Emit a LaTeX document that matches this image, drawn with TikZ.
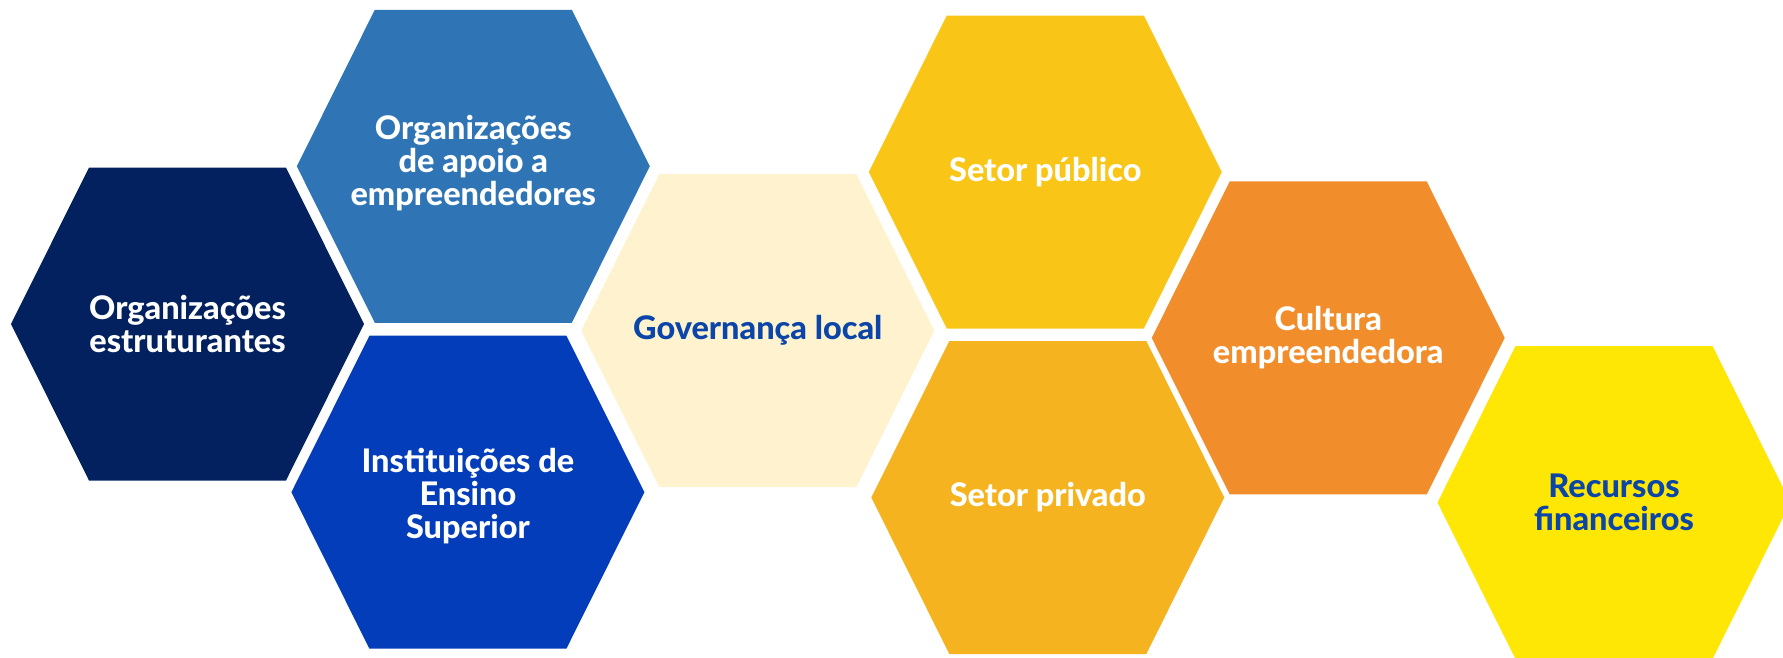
\documentclass[tikz,border=0pt]{standalone}
\usepackage{fontspec}
\setmainfont{Lato}[BoldFont={Lato Heavy}]
\definecolor{navy}{HTML}{03215F}
\definecolor{midblue}{HTML}{2F75B5}
\definecolor{royal}{HTML}{033DB9}
\definecolor{cream}{HTML}{FEF2CF}
\definecolor{sunyellow}{HTML}{F9C617}
\definecolor{amber}{HTML}{F5B41F}
\definecolor{orangec}{HTML}{F18E2B}
\definecolor{brightyellow}{HTML}{FEE705}
\definecolor{textblue}{HTML}{0B45A8}
\newcommand{\hexcell}[6]{%
  \fill[#4] (#2-176.5,#3) -- (#2-98.5,#3-156.5) -- (#2+98.5,#3-156.5) -- (#2+176.5,#3) -- (#2+98.5,#3+156.5) -- (#2-98.5,#3+156.5) -- cycle;
  \node[#5] (#1) at (#2,#3) {#6};}
\begin{document}
\begin{tikzpicture}[x=1pt,y=-1pt,
  lbl/.style={align=center,inner sep=0pt,font=\fontsize{32.5}{33}\selectfont\bfseries},
  whitelbl/.style={lbl,text=white},
  bluelbl/.style={lbl,text=textblue}]
\useasboundingbox (0,0) rectangle (1783,657);
\clip (0,0) rectangle (1783,657);
\hexcell{estrut}{187.5}{324}{navy}{whitelbl}{Organizações\\estruturantes}
\hexcell{apoio}{473.3}{166.3}{midblue}{whitelbl,yshift=3.5pt}{Organizações\\de apoio a\\empreendedores}
\hexcell{ensino}{467.9}{492.2}{royal}{whitelbl,yshift=-4pt}{Instituições de\\Ensino\\Superior}
\hexcell{gov}{757.8}{330.6}{cream}{bluelbl}{Governança local}
\hexcell{publico}{1045.3}{172}{sunyellow}{whitelbl}{Setor público}
\hexcell{privado}{1047.8}{497.5}{amber}{whitelbl}{Setor privado}
\hexcell{cultura}{1328.2}{337.9}{orangec}{whitelbl}{Cultura\\empreendedora}
\hexcell{recursos}{1614}{502.5}{brightyellow}{bluelbl}{Recursos\\financeiros}
\end{tikzpicture}
\end{document}
